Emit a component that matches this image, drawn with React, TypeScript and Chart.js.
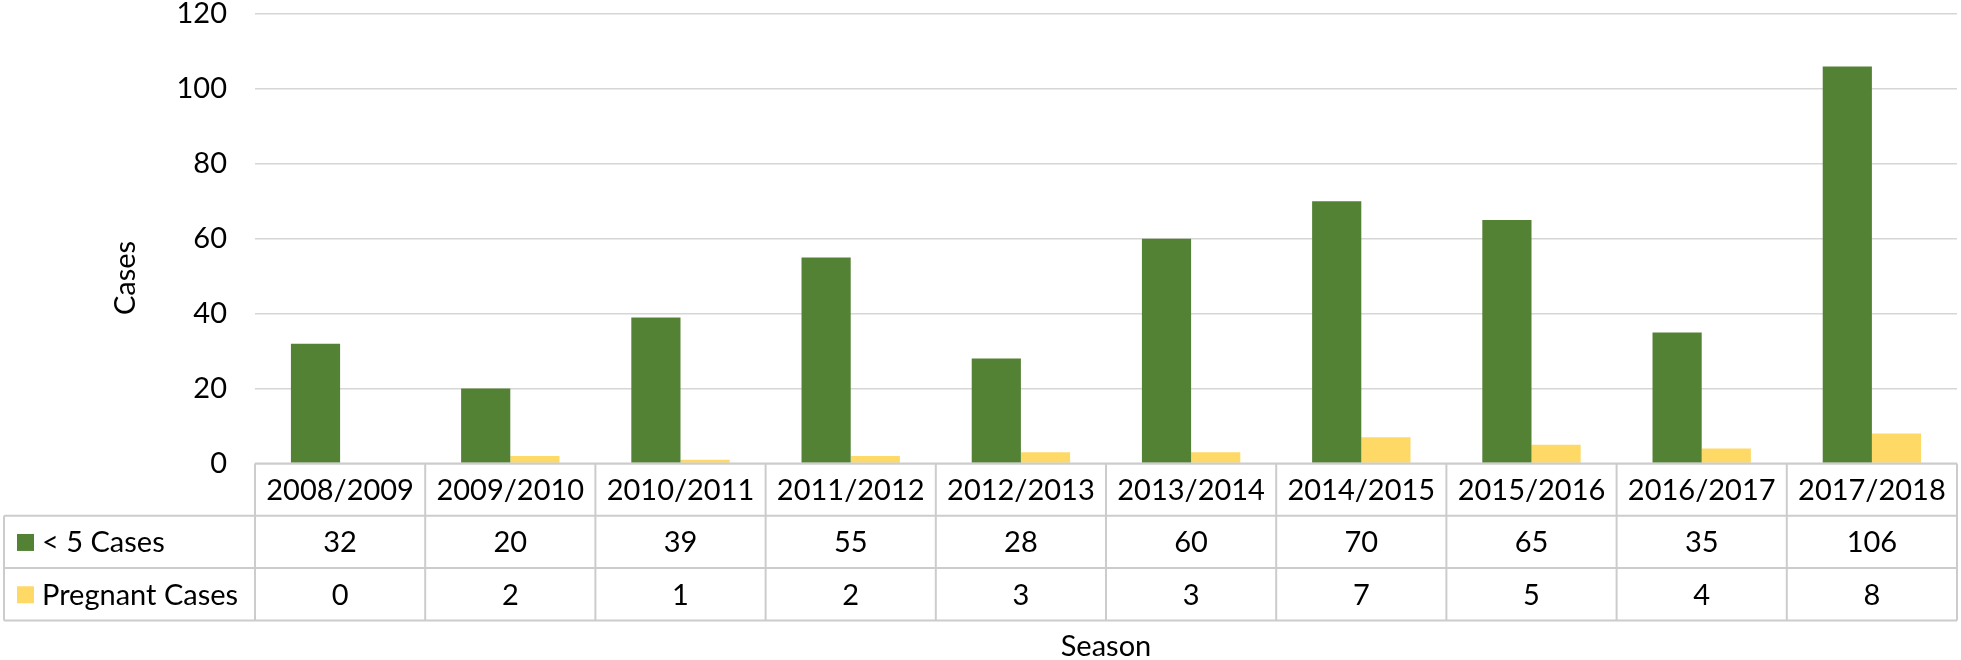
import React, { useEffect, useRef } from "react";
import { Chart, registerables } from "chart.js";

Chart.register(...registerables);

const seasons = [
  "2008/2009",
  "2009/2010",
  "2010/2011",
  "2011/2012",
  "2012/2013",
  "2013/2014",
  "2014/2015",
  "2015/2016",
  "2016/2017",
  "2017/2018",
];
const under5Cases = [32, 20, 39, 55, 28, 60, 70, 65, 35, 106];
const pregnantCases = [0, 2, 1, 2, 3, 3, 7, 5, 4, 8];
const seriesNames = ["< 5 Cases", "Pregnant Cases"];
const seriesColors = ["#548235", "#FFD966"];
const yMin = 0;
const yMax = 120;
const yStep = 20;
const yAxisTitle = "Cases";
const xAxisTitle = "Season";

const FONT_FAMILY = "Lato, 'Open Sans', sans-serif";
const FONT_SIZE = 29;
const TEXT_COLOR = "#000000";
const LINE_COLOR = "#cccccc";

const tablePlugin = {
  id: "dataTable",
  afterDraw(chart: any) {
    const { ctx, chartArea, scales } = chart;
    const x = scales.x;
    const n = seasons.length;
    const left = chartArea.left;
    const right = chartArea.right;
    const top = chartArea.bottom;
    const rowH = 52.3;
    const rows = [top, top + rowH, top + 2 * rowH, top + 3 * rowH];
    const legendLeft = 4;
    const line = (x1: number, y1: number, x2: number, y2: number) => {
      ctx.beginPath();
      ctx.moveTo(x1, y1);
      ctx.lineTo(x2, y2);
      ctx.stroke();
    };
    ctx.save();
    ctx.strokeStyle = LINE_COLOR;
    ctx.lineWidth = 2;
    line(left, rows[0], right, rows[0]);
    for (let i = 1; i < rows.length; i++) line(legendLeft, rows[i], right, rows[i]);
    line(legendLeft, rows[1], legendLeft, rows[3]);
    for (let i = 0; i <= n; i++) {
      const xb = x.getPixelForValue(i - 0.5);
      line(xb, rows[0], xb, rows[3]);
    }

    ctx.fillStyle = TEXT_COLOR;
    ctx.font = `${FONT_SIZE}px ${FONT_FAMILY}`;
    ctx.textAlign = "center";
    ctx.textBaseline = "middle";
    const mid = (a: number, b: number) => (a + b) / 2 + 1;
    const series = [under5Cases, pregnantCases];
    for (let i = 0; i < n; i++) {
      const cx = x.getPixelForValue(i);
      ctx.fillText(seasons[i], cx, mid(rows[0], rows[1]));
      for (let s = 0; s < series.length; s++) {
        ctx.fillText(String(series[s][i]), cx, mid(rows[s + 1], rows[s + 2]));
      }
    }
    // legend keys
    ctx.textAlign = "left";
    for (let s = 0; s < seriesNames.length; s++) {
      const cy = mid(rows[s + 1], rows[s + 2]);
      ctx.fillStyle = seriesColors[s];
      ctx.fillRect(17, cy - 9, 17, 17);
      ctx.fillStyle = TEXT_COLOR;
      ctx.fillText(seriesNames[s], 42, cy);
    }
    // axis titles
    ctx.textAlign = "center";
    ctx.fillText(xAxisTitle, (left + right) / 2, 647);
    ctx.save();
    ctx.translate(126, 278);
    ctx.rotate(-Math.PI / 2);
    ctx.fillText(yAxisTitle, 0, 0);
    ctx.restore();
    ctx.restore();
  },
};

export default function App() {
  const canvasRef = useRef<HTMLCanvasElement | null>(null);

  useEffect(() => {
    if (!canvasRef.current) return;
    const chart = new Chart(canvasRef.current, {
      type: "bar",
      data: {
        labels: seasons,
        datasets: [
          {
            label: seriesNames[0],
            data: under5Cases,
            backgroundColor: seriesColors[0],
            categoryPercentage: 0.578,
            barPercentage: 1,
          },
          {
            label: seriesNames[1],
            data: pregnantCases,
            backgroundColor: seriesColors[1],
            categoryPercentage: 0.578,
            barPercentage: 1,
          },
        ],
      },
      options: {
        responsive: false,
        animation: false,
        devicePixelRatio: 1,
        layout: { padding: { top: 14, right: 4, left: 0, bottom: 0 } },
        plugins: {
          legend: { display: false },
          tooltip: { enabled: false },
        },
        scales: {
          x: {
            type: "category",
            grid: { display: false },
            border: { display: false },
            ticks: { display: false },
            afterFit(scale: any) {
              scale.height = 196.5;
              scale.paddingLeft = 0;
              scale.paddingRight = 0;
            },
          },
          y: {
            min: yMin,
            max: yMax,
            ticks: {
              stepSize: yStep,
              padding: 28,
              color: TEXT_COLOR,
              font: { family: FONT_FAMILY, size: FONT_SIZE },
            },
            grid: { color: "#d6d6d6", lineWidth: 1.5, drawTicks: false },
            border: { display: false },
            afterFit(scale: any) {
              scale.width = 255;
              scale.paddingTop = 0;
              scale.paddingBottom = 0;
            },
          },
        },
      },
      plugins: [tablePlugin],
    });
    return () => chart.destroy();
  }, []);

  return (
    <div style={{ position: "absolute", left: 0, top: 0, width: 1961, height: 660, background: "#fff" }}>
      <canvas ref={canvasRef} width={1961} height={660} />
    </div>
  );
}
